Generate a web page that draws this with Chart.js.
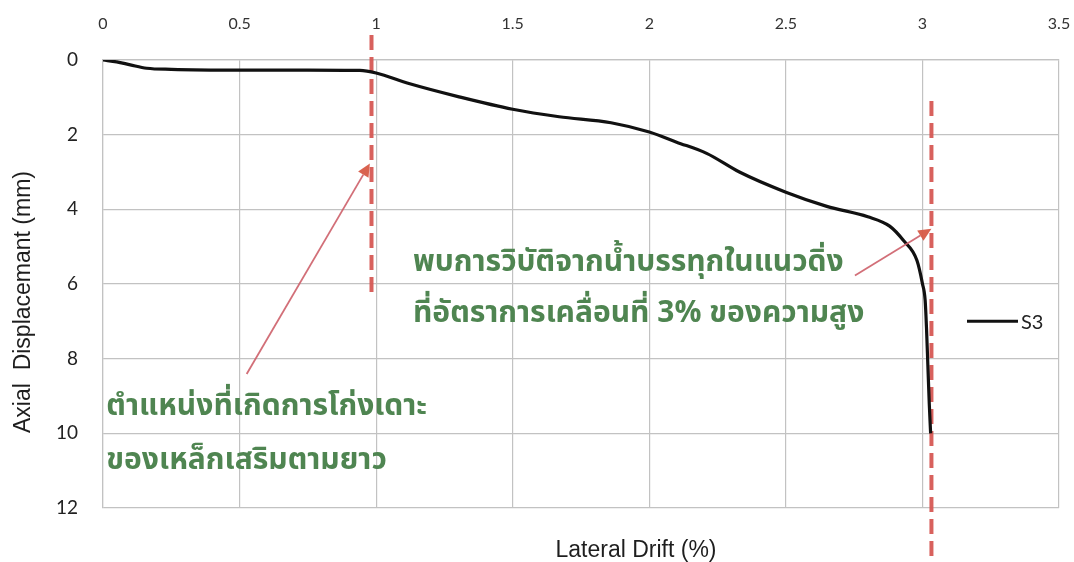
<!DOCTYPE html>
<html>
<head>
<meta charset="utf-8">
<script src="https://cdn.jsdelivr.net/npm/chart.js@4/dist/chart.umd.min.js"></script>
<style>
  html, body { margin: 0; padding: 0; background: #ffffff; }
  #wrap { width: 1074px; height: 562px; position: relative; }
</style>
</head>
<body>
<div id="wrap"><canvas id="c" width="1074" height="562"></canvas></div>
<script>
// Specimen S3: lateral drift (%) against axial displacement (mm)
const driftPct = [0, 0.05, 0.10, 0.16, 0.25, 0.50, 0.75, 0.94, 1.00, 1.12, 1.30, 1.50, 1.67, 1.86, 2.00, 2.10, 2.21, 2.33, 2.50, 2.65, 2.80, 2.88, 2.93, 2.98, 3.00, 3.01, 3.015, 3.02, 3.025, 3.03];
const axialMm  = [0, 0.05, 0.13, 0.22, 0.25, 0.27, 0.27, 0.28, 0.35, 0.63, 0.98, 1.32, 1.52, 1.68, 1.93, 2.20, 2.50, 3.00, 3.54, 3.92, 4.20, 4.45, 4.83, 5.37, 5.99, 6.44, 7.20, 8.20, 9.20, 10.00];

// Dashed marker lines: drift where the bars buckled, drift at axial failure
const bucklingDrift = [0.983, 0.983];
const bucklingSpan  = [-0.67, 6.3];
const failureDrift  = [3.033, 3.033];
const failureSpan   = [1.1, 13.3];

// Arrow tails and tips (drift %, axial mm)
const bucklingArrow = [[0.526, 8.41], [0.977, 2.77]];
const failureArrow  = [[2.753, 5.77], [3.033, 4.52]];

// Axis ranges
const driftTicks = [0, 0.5, 1, 1.5, 2, 2.5, 3, 3.5];
const axialTicks = [0, 2, 4, 6, 8, 10, 12];

const seriesName = 'S3';
const noteBuckling = ['ตำแหน่งที่เกิดการโก่งเดาะ', 'ของเหล็กเสริมตามยาว'];
const noteFailure  = ['พบการวิบัติจากน้ำบรรทุกในแนวดิ่ง', 'ที่อัตราการเคลื่อนที่ 3% ของความสูง'];

const pts = (xs, ys) => xs.map((x, i) => ({ x: x, y: ys[i] }));
const RED = 'rgba(214, 88, 84, 0.95)';
const THAI_FONT = '"Noto Sans Thai", "Noto Sans Thai UI", Loma, Garuda, Norasi, "TlwgTypo", "DejaVu Sans", sans-serif';

const decorations = {
  id: 'decorations',
  afterDatasetsDraw(chart) {
    const ctx = chart.ctx;
    const xs = chart.scales.x, ys = chart.scales.y;
    const px = v => xs.getPixelForValue(v);
    const py = v => ys.getPixelForValue(v);

    // arrows
    const arrow = (a) => {
      const x0 = px(a[0][0]), y0 = py(a[0][1]);
      const x1 = px(a[1][0]), y1 = py(a[1][1]);
      const ang = Math.atan2(y1 - y0, x1 - x0);
      const head = 13, half = 6;
      const bx = x1 - head * Math.cos(ang), by = y1 - head * Math.sin(ang);
      ctx.save();
      ctx.strokeStyle = 'rgba(205, 95, 105, 0.9)';
      ctx.lineWidth = 1.8;
      ctx.beginPath();
      ctx.moveTo(x0, y0);
      ctx.lineTo(bx, by);
      ctx.stroke();
      ctx.fillStyle = 'rgba(215, 90, 70, 0.95)';
      ctx.beginPath();
      ctx.moveTo(x1, y1);
      ctx.lineTo(bx + half * Math.sin(ang), by - half * Math.cos(ang));
      ctx.lineTo(bx - half * Math.sin(ang), by + half * Math.cos(ang));
      ctx.closePath();
      ctx.fill();
      ctx.restore();
    };
    arrow(bucklingArrow);
    arrow(failureArrow);

    // Thai notes
    ctx.save();
    ctx.fillStyle = '#4f8551';
    ctx.font = 'bold 30px ' + THAI_FONT;
    ctx.textAlign = 'left';
    ctx.textBaseline = 'middle';
    ctx.fillText(noteBuckling[0], px(0.012), py(9.35));
    ctx.fillText(noteBuckling[1], px(0.012), py(10.8));
    ctx.fillText(noteFailure[0], px(1.135), py(5.5));
    ctx.fillText(noteFailure[1], px(1.135), py(6.85));
    ctx.restore();

    // legend entry
    const ds = chart.data.datasets[0];
    const ly = py(7);
    ctx.save();
    ctx.strokeStyle = ds.borderColor;
    ctx.lineWidth = 3;
    ctx.beginPath();
    ctx.moveTo(967, ly);
    ctx.lineTo(1018, ly);
    ctx.stroke();
    ctx.fillStyle = '#222';
    ctx.font = '20px Lato, "Open Sans", sans-serif';
    ctx.textAlign = 'left';
    ctx.textBaseline = 'middle';
    ctx.fillText(ds.label, 1021, ly + 1);
    ctx.restore();
  },
  afterDraw(chart) {
    const ctx = chart.ctx;
    ctx.save();
    ctx.fillStyle = '#1e1e1e';
    ctx.font = '23px "Liberation Sans", Arial, sans-serif';
    ctx.textAlign = 'center';
    ctx.textBaseline = 'middle';
    ctx.fillText('Lateral Drift (%)', 636, 551);
    ctx.translate(24, 302);
    ctx.rotate(-Math.PI / 2);
    ctx.fillText('Axial  Displacemant (mm)', 0, 0);
    ctx.restore();
  }
};

new Chart(document.getElementById('c'), {
  type: 'line',
  data: {
    datasets: [
      {
        label: seriesName,
        data: pts(driftPct, axialMm),
        borderColor: '#111111',
        borderWidth: 3.2,
        pointRadius: 0,
        cubicInterpolationMode: 'monotone',
        fill: false
      },
      {
        label: 'buckling',
        data: pts(bucklingDrift, bucklingSpan),
        borderColor: RED,
        borderWidth: 4,
        borderDash: [15, 7],
        pointRadius: 0,
        clip: false
      },
      {
        label: 'failure',
        data: pts(failureDrift, failureSpan),
        borderColor: RED,
        borderWidth: 4,
        borderDash: [15, 7],
        pointRadius: 0,
        clip: false
      }
    ]
  },
  options: {
    responsive: false,
    animation: false,
    layout: { padding: { left: 0, right: 15, top: 0, bottom: 54 } },
    plugins: {
      legend: { display: false },
      tooltip: { enabled: false },
      title: { display: false }
    },
    scales: {
      x: {
        type: 'linear',
        position: 'top',
        min: driftTicks[0],
        max: driftTicks[driftTicks.length - 1],
        afterBuildTicks: s => { s.ticks = driftTicks.map(v => ({ value: v })); },
        afterFit: s => { s.height = 60; s.paddingLeft = 0; s.paddingRight = 0; },
        grid: { color: '#c2c2c2', lineWidth: 1.2, drawTicks: false },
        border: { color: '#c2c2c2', width: 1.2 },
        ticks: {
          padding: 27,
          color: '#333',
          font: { family: 'Lato, "Open Sans", sans-serif', size: 16 },
          callback: v => String(v)
        }
      },
      y: {
        type: 'linear',
        reverse: true,
        min: axialTicks[0],
        max: axialTicks[axialTicks.length - 1],
        afterBuildTicks: s => { s.ticks = axialTicks.map(v => ({ value: v })); },
        afterFit: s => { s.width = 103; s.paddingTop = 0; s.paddingBottom = 0; },
        grid: { color: '#c2c2c2', lineWidth: 1.2, drawTicks: false },
        border: { color: '#c2c2c2', width: 1.2 },
        ticks: {
          padding: 25,
          color: '#222',
          font: { family: 'Lato, "Open Sans", sans-serif', size: 19 },
          callback: v => String(v)
        }
      }
    }
  },
  plugins: [decorations]
});
</script>
</body>
</html>
